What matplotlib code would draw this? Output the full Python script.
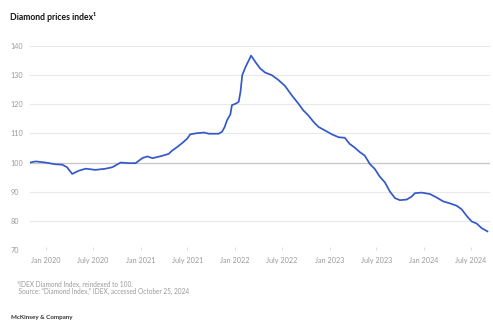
import matplotlib
matplotlib.use("Agg")
import matplotlib.pyplot as plt
import pandas as pd

dates = [
    "2019-11-01", "2019-11-23", "2020-01-01", "2020-02-08", "2020-03-04", "2020-03-23",
    "2020-04-12", "2020-05-07", "2020-06-03", "2020-07-11", "2020-08-19", "2020-09-14",
    "2020-10-16", "2020-11-18", "2020-12-13", "2021-01-09", "2021-01-28", "2021-02-16",
    "2021-03-25", "2021-04-20", "2021-05-03", "2021-05-22", "2021-06-11", "2021-06-30",
    "2021-07-12", "2021-08-08", "2021-09-03", "2021-09-22", "2021-10-30", "2021-11-12",
    "2021-11-22", "2021-12-01", "2021-12-14", "2021-12-20", "2022-01-03", "2022-01-15",
    "2022-01-22", "2022-01-29", "2022-02-11", "2022-02-24", "2022-03-04", "2022-03-20",
    "2022-04-08", "2022-04-27", "2022-05-23", "2022-06-18", "2022-07-13", "2022-08-08",
    "2022-09-03", "2022-09-22", "2022-10-11", "2022-11-01", "2022-11-20", "2022-12-15",
    "2023-01-10", "2023-02-05", "2023-03-01", "2023-03-20", "2023-04-09", "2023-04-28",
    "2023-05-17", "2023-06-06", "2023-06-25", "2023-07-14", "2023-08-03", "2023-08-22",
    "2023-09-11", "2023-09-30", "2023-10-26", "2023-11-14", "2023-11-27", "2023-12-23",
    "2024-01-24", "2024-02-19", "2024-03-15", "2024-04-10", "2024-05-06", "2024-05-25",
    "2024-06-14", "2024-07-03", "2024-07-22", "2024-08-11", "2024-09-02",
]
index_values = [
    100.0, 100.4, 100.0, 99.4, 99.3, 98.4,
    96.1, 97.2, 97.9, 97.5, 97.9, 98.4,
    100.0, 99.8, 99.8, 101.6, 102.1, 101.5,
    102.3, 103.0, 104.1, 105.3, 106.7, 108.2,
    109.7, 110.1, 110.3, 109.9, 109.9, 110.6,
    112.2, 114.5, 116.5, 119.7, 120.2, 120.8,
    124.2, 130.0, 132.9, 135.2, 136.7, 134.6,
    132.3, 130.9, 130.0, 128.3, 126.3, 123.1,
    120.2, 117.9, 116.2, 113.9, 112.2, 111.0,
    109.7, 108.7, 108.5, 106.4, 105.1, 103.6,
    102.4, 99.5, 97.8, 95.2, 93.2, 90.1,
    87.8, 87.1, 87.3, 88.3, 89.5, 89.7,
    89.2, 88.0, 86.7, 86.0, 85.2, 84.0,
    81.7, 79.8, 79.1, 77.5, 76.4,
]
y_ticks = [70, 80, 90, 100, 110, 120, 130, 140]
x_tick_dates = ["2020-01-01", "2020-07-01", "2021-01-01", "2021-07-01", "2022-01-01",
                "2022-07-01", "2023-01-01", "2023-07-01", "2024-01-01", "2024-07-01"]
x_tick_labels = ["Jan 2020", "July 2020", "Jan 2021", "July 2021", "Jan 2022",
                 "July 2022", "Jan 2023", "July 2023", "Jan 2024", "July 2024"]

title = "Diamond prices index\u00b9"
footnote1 = "\u00b9IDEX Diamond Index, reindexed to 100."
footnote2 = " Source: \u201cDiamond Index,\u201d IDEX, accessed October 25, 2024"
brand = "McKinsey & Company"

plt.rcParams['font.family'] = ['Lato', 'DejaVu Sans']

W, H = 493, 322
fig = plt.figure(figsize=(W / 100, H / 100), dpi=100)
fig.patch.set_facecolor("white")
ax = fig.add_axes([30 / W, 1 - 250 / H, 460 / W, 204 / H])

x = pd.to_datetime(dates)
ax.plot(x, index_values, color="#3558c8", lw=1.25, solid_joinstyle="round", zorder=3)

ax.set_ylim(70, 140)
ax.set_xlim(pd.Timestamp("2019-11-01"), pd.Timestamp("2024-09-12"))

for v in y_ticks:
    if v == 70:
        continue
    ax.axhline(v, color="#c8c8c8" if v == 100 else "#e9e9e9",
               lw=1.0 if v == 100 else 0.8, zorder=1)
ax.axhline(70, color="#d0d0d0", lw=0.7, ls=(0, (1.5, 1.5)), zorder=1)

ax.set_yticks(y_ticks)
ax.set_yticklabels([str(v) for v in y_ticks])
ax.tick_params(axis="y", length=0, pad=14, labelsize=5.2, labelcolor="#9a9a9a")
for lab in ax.get_yticklabels():
    lab.set_ha("left")

ax.set_xticks(pd.to_datetime(x_tick_dates))
ax.set_xticklabels(x_tick_labels)
ax.tick_params(axis="x", length=2, width=0.5, direction="in", color="#cfcfcf",
               pad=5, labelsize=5.2, labelcolor="#9a9a9a")

for s in ax.spines.values():
    s.set_visible(False)

fig.text(10 / W, 1 - 17 / H, title, fontsize=6.2, fontweight="bold",
         color="#111111", va="center", ha="left")
fig.text(17 / W, 1 - 284 / H, footnote1, fontsize=4.7, color="#9a9a9a",
         va="center", ha="left")
fig.text(17 / W, 1 - 291 / H, footnote2, fontsize=4.7, color="#9a9a9a",
         va="center", ha="left")
fig.text(11 / W, 1 - 318 / H, brand, fontsize=4.5, fontweight="bold",
         color="#333333", va="center", ha="left")

fig.savefig("out.png", dpi=100, facecolor="white")
